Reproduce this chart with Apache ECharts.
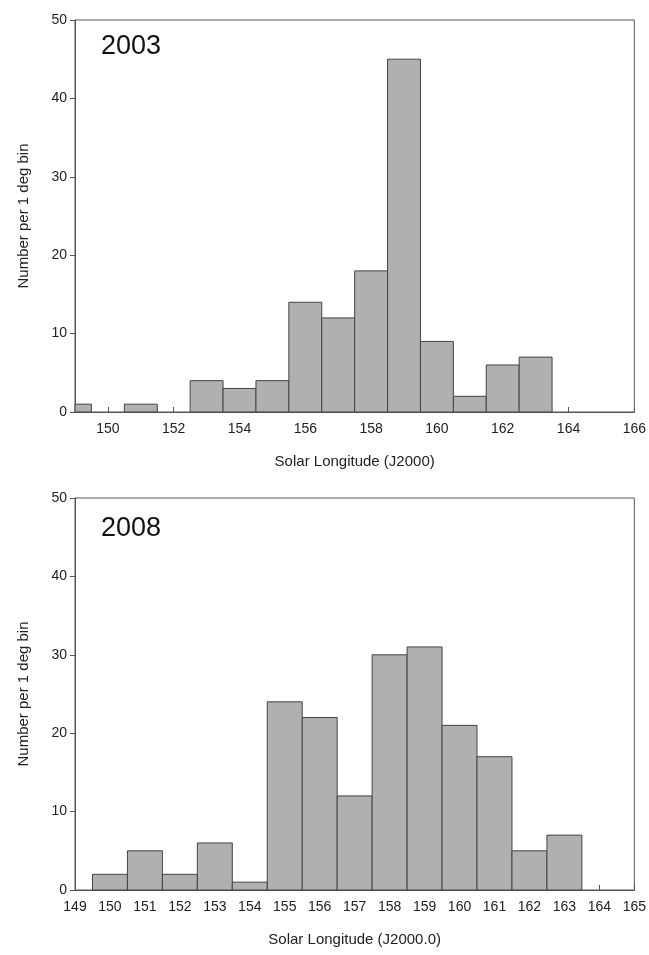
<!DOCTYPE html>
<html>
<head>
<meta charset="utf-8">
<script src="https://cdn.jsdelivr.net/npm/echarts@6/dist/echarts.min.js"></script>
<style>html,body{margin:0;padding:0;background:#fff}#main{width:649px;height:955px}</style>
</head>
<body>
<div id="main"></div>
<script>
// bin centres (1 deg wide) and counts
const bins2003 = [149, 150, 151, 152, 153, 154, 155, 156, 157, 158, 159, 160, 161, 162, 163];
const counts2003 = [1, 0, 1, 0, 4, 3, 4, 14, 12, 18, 45, 9, 2, 6, 7];
const bins2008 = [150, 151, 152, 153, 154, 155, 156, 157, 158, 159, 160, 161, 162, 163];
const counts2008 = [2, 5, 2, 6, 1, 24, 22, 12, 30, 31, 21, 17, 5, 7];
const ticks2003 = [150, 152, 154, 156, 158, 160, 162, 164, 166];
const ticks2008 = [149, 150, 151, 152, 153, 154, 155, 156, 157, 158, 159, 160, 161, 162, 163, 164, 165];

const chart = echarts.init(document.getElementById('main'));
const font = 'Liberation Sans, Arial, sans-serif';

function histItem(params, api) {
    const x = api.value(0), y = api.value(1);
    if (!y) return null;
    const p0 = api.coord([x - 0.5, y]);
    const p1 = api.coord([x + 0.5, 0]);
    const shape = echarts.graphic.clipRectByRect(
        {x: p0[0], y: p0[1], width: p1[0] - p0[0], height: p1[1] - p0[1]},
        {x: params.coordSys.x, y: params.coordSys.y, width: params.coordSys.width, height: params.coordSys.height}
    );
    if (!shape) return null;
    return {type: 'rect', shape: shape, style: {fill: '#b0b0b0', stroke: '#444', lineWidth: 1}};
}

function xAx(idx, min, max, ticks, name) {
    return {
        type: 'value', gridIndex: idx, min: min, max: max,
        name: name, nameLocation: 'middle', nameGap: 42,
        nameTextStyle: {fontFamily: font, fontSize: 15, color: '#222'},
        axisLine: {lineStyle: {color: '#555'}},
        axisTick: {inside: true, length: 5, lineStyle: {color: '#555'}, customValues: ticks},
        axisLabel: {fontFamily: font, fontSize: 14, color: '#222', margin: 10, customValues: ticks},
        splitLine: {show: false}
    };
}
function yAx(idx) {
    return {
        type: 'value', gridIndex: idx, min: 0, max: 50, interval: 10,
        name: 'Number per 1 deg bin', nameLocation: 'middle', nameGap: 44,
        nameTextStyle: {fontFamily: font, fontSize: 15, color: '#222'},
        axisLine: {show: true, lineStyle: {color: '#555'}},
        axisTick: {length: 5, lineStyle: {color: '#555'}},
        axisLabel: {fontFamily: font, fontSize: 14, color: '#222', margin: 8},
        splitLine: {show: false}
    };
}

chart.setOption({
    animation: false,
    backgroundColor: '#fff',
    title: [
        {text: '2003', left: 96, top: 28, textStyle: {fontFamily: font, fontSize: 27, fontWeight: 'normal', color: '#111'}},
        {text: '2008', left: 96, top: 510, textStyle: {fontFamily: font, fontSize: 27, fontWeight: 'normal', color: '#111'}}
    ],
    grid: [
        {left: 75, top: 20, width: 562, height: 392, show: true, borderColor: '#555', borderWidth: 1},
        {left: 75, top: 498, width: 562, height: 392, show: true, borderColor: '#555', borderWidth: 1}
    ],
    xAxis: [
        xAx(0, 149, 166, ticks2003, 'Solar Longitude (J2000)'),
        xAx(1, 149, 165, ticks2008, 'Solar Longitude (J2000.0)')
    ],
    yAxis: [yAx(0), yAx(1)],
    series: [
        {type: 'custom', xAxisIndex: 0, yAxisIndex: 0, renderItem: histItem,
            data: bins2003.map((b, i) => [b, counts2003[i]])},
        {type: 'custom', xAxisIndex: 1, yAxisIndex: 1, renderItem: histItem,
            data: bins2008.map((b, i) => [b, counts2008[i]])}
    ]
});
</script>
</body>
</html>
